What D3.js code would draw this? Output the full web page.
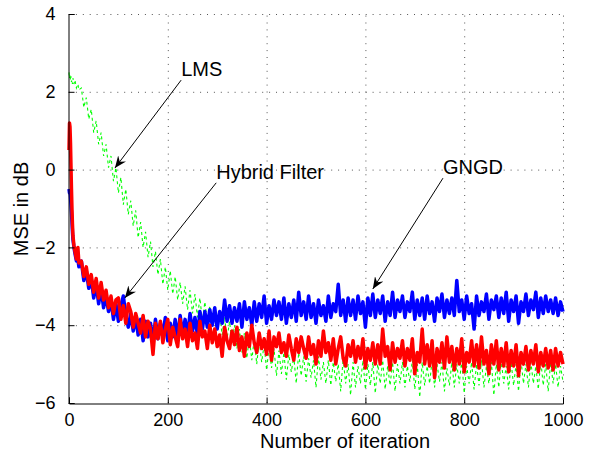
<!DOCTYPE html>
<html>
<head>
<meta charset="utf-8">
<script src="https://cdn.jsdelivr.net/npm/d3@7"></script>
<style>
  body { margin: 0; background: #fff; }
  text { font-family: "Liberation Sans", Arial, Helvetica, sans-serif; }
</style>
</head>
<body>
<svg width="589" height="453"></svg>
<script>
// sampling grid (iteration numbers), finer at the start
var iters = [0, 1, 2, 3, 4, 5, 6, 7, 8, 10, 12, 15, 18, 20].concat(d3.range(25, 1001, 5));

// MSE in dB
var lms = [
  2.5, 2.35, 2.45, 2.3, 2.4, 2.25, 2.3, 2.2, 2.35, 2.2, 2.3, 2.1, 2.2, 2.05,
  2.1, 1.6, 1.85, 1.3, 1.55, 0.95, 1.25, 0.65, 0.95, 0.35,
  0.65, 0.05, 0.35, -0.3, 0.05, -0.6, -0.2, -0.9, -0.5, -1.15,
  -0.8, -1.45, -1.05, -1.75, -1.35, -2.0, -1.6, -2.25, -1.85, -2.5,
  -2.1, -2.7, -2.3, -2.95, -2.5, -3.1, -2.6, -3.2, -2.75, -3.35,
  -2.9, -3.45, -3.0, -3.6, -3.1, -3.7, -3.2, -3.8, -3.3, -3.9,
  -3.4, -3.9, -3.5, -4.0, -3.6, -4.1, -3.7, -4.25, -3.8, -4.35,
  -3.9, -4.45, -4.0, -4.6, -4.1, -4.7, -4.2, -4.85, -4.3, -4.9,
  -4.35, -5.0, -4.4, -4.95, -4.5, -5.15, -4.55, -5.1, -4.6, -5.3,
  -4.65, -5.25, -4.7, -5.4, -4.75, -5.2, -4.8, -5.5, -4.7, -5.3,
  -4.8, -5.45, -4.85, -5.35, -4.9, -5.6, -4.8, -5.4, -4.95, -5.5,
  -4.9, -5.55, -4.95, -5.45, -5.0, -5.7, -4.85, -5.5, -5.0, -5.8,
  -4.95, -5.6, -5.05, -5.5, -4.9, -5.65, -5.0, -5.55, -4.95, -5.75,
  -5.0, -5.5, -4.9, -5.65, -5.05, -5.55, -4.95, -5.7, -5.0, -5.5,
  -4.95, -5.6, -5.05, -5.45, -4.9, -5.65, -5.0, -5.85, -4.95, -5.55,
  -5.05, -5.5, -4.9, -5.6, -5.0, -5.45, -4.95, -5.7, -5.1, -5.55,
  -4.95, -5.6, -5.0, -5.5, -4.9, -5.75, -5.05, -5.5, -4.95, -5.65,
  -5.0, -5.55, -4.9, -5.6, -5.05, -5.5, -4.95, -5.8, -5.0, -5.6,
  -4.9, -5.5, -5.05, -5.65, -4.95, -5.55, -5.0, -5.7, -4.9, -5.5,
  -5.0, -5.6, -4.95, -5.5, -5.05, -5.65, -4.9, -5.55, -5.0, -5.7,
  -4.95, -5.5, -5.0, -5.6, -5.05, -5.45
];

var gngd = [
  -0.5, -0.6, -0.55, -0.7, -0.9, -1.1, -1.35, -1.6, -1.8, -2.0, -2.15, -2.35, -2.3, -2.5,
  -2.35, -2.85, -2.6, -3.05, -2.8, -3.3, -2.95, -3.45, -3.05, -3.55,
  -3.25, -3.65, -3.35, -3.85, -3.45, -3.9, -3.5, -3.25, -3.75, -4.05,
  -3.7, -4.15, -3.8, -4.25, -3.85, -4.4, -3.9, -4.3, -3.95, -4.45,
  -3.85, -4.35, -3.95, -4.25, -3.8, -4.4, -3.95, -4.3, -3.85, -4.35,
  -3.75, -4.25, -3.85, -4.3, -3.7, -4.15, -3.8, -4.25, -3.65, -4.1,
  -3.65, -4.05, -3.6, -4.0, -3.55, -4.1, -3.65, -3.95, -3.35, -3.9,
  -3.5, -3.95, -3.55, -3.9, -3.45, -4.05, -3.4, -3.85, -3.55, -4.0,
  -3.4, -3.9, -3.45, -3.8, -3.25, -3.95, -3.5, -3.85, -3.35, -3.75,
  -3.4, -3.85, -3.3, -3.95, -3.45, -3.8, -3.35, -3.9, -3.15, -3.75,
  -3.4, -3.85, -3.25, -3.8, -3.45, -3.95, -3.35, -3.75, -3.5, -3.9,
  -3.25, -3.8, -3.45, -3.65, -2.95, -3.75, -3.35, -3.9, -3.3, -3.75,
  -3.35, -3.85, -3.25, -3.7, -3.4, -4.05, -3.3, -3.75, -3.2, -3.8,
  -3.35, -3.7, -3.25, -3.9, -3.4, -3.75, -3.15, -3.8, -3.35, -3.65,
  -3.25, -3.8, -3.4, -3.65, -3.15, -3.85, -3.35, -3.75, -3.3, -3.85,
  -3.25, -3.7, -3.4, -3.9, -3.3, -3.65, -3.2, -3.8, -3.35, -3.7,
  -3.3, -3.75, -2.85, -3.65, -3.35, -3.85, -3.25, -3.7, -3.45, -4.1,
  -3.25, -3.75, -3.4, -3.65, -3.2, -3.85, -3.35, -3.6, -3.25, -3.8,
  -3.3, -3.7, -3.15, -3.9, -3.35, -3.65, -3.25, -3.95, -3.4, -3.65,
  -3.2, -3.75, -3.35, -3.6, -3.15, -3.8, -3.3, -3.7, -3.25, -3.65,
  -3.35, -3.7, -3.3, -3.75, -3.4, -3.65
];

var hybrid = [
  0.5, 1.2, 1.1, 0.7, 0.1, -0.5, -1.0, -1.4, -1.7, -1.95, -2.1, -2.3, -2.0, -2.4,
  -2.35, -2.75, -2.5, -2.95, -2.7, -3.15, -2.8, -3.3, -2.9, -3.35,
  -3.1, -3.55, -3.25, -3.7, -3.35, -3.3, -3.85, -3.5, -3.95, -3.45,
  -3.65, -4.05, -3.7, -3.95, -4.2, -3.75, -4.3, -3.9, -4.1, -4.75,
  -3.95, -4.35, -3.9, -4.45, -4.1, -3.85, -4.5, -4.05, -4.3, -4.55,
  -3.85, -4.35, -4.1, -4.55, -3.95, -4.4, -4.2, -4.6, -3.9, -4.3,
  -4.15, -4.6, -4.0, -4.45, -4.1, -4.55, -4.25, -4.8, -4.05, -4.4,
  -4.6, -4.15, -4.5, -4.05, -4.65, -4.3, -4.8, -4.2, -4.55, -4.0,
  -4.45, -4.7, -4.2, -4.6, -4.35, -4.75, -4.15, -4.9, -4.3, -4.55,
  -4.2, -4.7, -4.45, -4.8, -4.25, -4.6, -4.9, -4.35, -4.7, -4.3,
  -4.6, -4.85, -4.3, -4.75, -4.5, -5.0, -4.4, -4.8, -4.15, -4.7,
  -4.45, -4.9, -4.35, -5.0, -4.6, -4.3, -4.85, -5.05, -4.5, -4.8,
  -4.4, -4.95, -4.55, -4.85, -4.35, -5.1, -4.6, -4.9, -4.45, -5.0,
  -4.5, -5.0, -4.1, -4.8, -4.55, -5.15, -4.45, -4.95, -4.6, -4.85,
  -4.4, -5.05, -4.6, -4.9, -4.35, -5.25, -4.7, -4.95, -4.1, -5.0,
  -4.5, -5.05, -4.4, -5.35, -4.6, -4.95, -4.45, -5.1, -4.3, -4.95,
  -4.55, -5.15, -4.6, -5.0, -4.35, -5.2, -4.7, -4.95, -4.4, -5.05,
  -4.5, -5.1, -4.3, -5.0, -4.65, -5.25, -4.5, -5.0, -4.4, -5.15,
  -4.6, -5.05, -4.45, -5.2, -4.65, -5.05, -4.5, -5.3, -4.7, -5.0,
  -4.55, -5.15, -4.65, -5.0, -4.5, -5.2, -4.7, -5.05, -4.6, -5.1,
  -4.65, -5.15, -4.6, -5.05, -4.7, -5.0
];

var xTicks = [0, 200, 400, 600, 800, 1000];
var yTicks = [-6, -4, -2, 0, 2, 4];

// text arrows: label at the tail, head points at the curve (data units)
var notes = [
  { text: "LMS",           tail: [227, 2.3],   head: [93, 0.04] },
  { text: "Hybrid Filter", tail: [298, -0.34], head: [113, -3.3] },
  { text: "GNGD",          tail: [757, -0.22], head: [615, -3.07] }
];

var svg = d3.select("svg");
var x = d3.scaleLinear().domain([0, 1000]).range([69, 563]);
var y = d3.scaleLinear().domain([-6, 4]).range([403, 14]);

// dotted grid
var grid = svg.append("g")
  .attr("stroke", "#555")
  .attr("stroke-width", 1)
  .attr("stroke-dasharray", "1,5.9");
grid.selectAll(".gx").data(xTicks.filter(d => d > 0)).enter().append("line")
  .attr("x1", d => x(d) + 0.5).attr("x2", d => x(d) + 0.5)
  .attr("y1", y(-6)).attr("y2", y(4));
grid.selectAll(".gy").data(yTicks.filter(d => d > -6)).enter().append("line")
  .attr("y1", d => y(d) + 0.5).attr("y2", d => y(d) + 0.5)
  .attr("x1", x(0)).attr("x2", x(1000));

// series
function line(vals) {
  return d3.line()
    .x((d, i) => x(iters[i]))
    .y(d => y(d))(vals);
}

svg.append("path")
  .attr("d", line(lms))
  .attr("fill", "none")
  .attr("stroke", "#00ff00")
  .attr("stroke-width", 1.1)
  .attr("stroke-dasharray", "3,3");

svg.append("path")
  .attr("d", line(gngd))
  .attr("fill", "none")
  .attr("stroke", "#0000ff")
  .attr("stroke-width", 3.5)
  .attr("stroke-linejoin", "round");

svg.append("path")
  .attr("d", line(hybrid))
  .attr("fill", "none")
  .attr("stroke", "#ff0000")
  .attr("stroke-width", 3.5)
  .attr("stroke-linejoin", "round");

// axes (matlab style: inward ticks, minor ticks)
var xAxis = svg.append("g").attr("transform", "translate(0," + (y(-6) + 0.5) + ")");
xAxis.call(d3.axisBottom(x).tickValues(d3.range(0, 1001, 20)).tickSize(-3).tickFormat(""));
xAxis.call(d3.axisBottom(x).tickValues(xTicks).tickSize(-6).tickPadding(10).tickFormat(d3.format("d")));
var yAxis = svg.append("g").attr("transform", "translate(" + (x(0) - 0.5) + ",0)");
yAxis.call(d3.axisLeft(y).tickValues(d3.range(-6, 4.01, 0.2)).tickSize(-3).tickFormat(""));
yAxis.call(d3.axisLeft(y).tickValues(yTicks).tickSize(-6).tickPadding(13).tickFormat(d => d3.format("d")(d).replace("-", "\u2212")));
svg.selectAll(".domain").attr("stroke", "#000");
svg.selectAll(".tick line").attr("stroke", "#000");
svg.selectAll(".tick text")
  .attr("font-size", 18)
  .attr("font-family", "'Liberation Sans', Arial, sans-serif")
  .attr("fill", "#000");

svg.append("text")
  .attr("x", 345).attr("y", 448)
  .attr("text-anchor", "middle")
  .attr("font-size", 20)
  .text("Number of iteration");

svg.append("text")
  .attr("transform", "translate(28,209) rotate(-90)")
  .attr("text-anchor", "middle")
  .attr("font-size", 20)
  .text("MSE in dB");

// arrowhead
svg.append("defs").append("marker")
  .attr("id", "head")
  .attr("viewBox", "0 0 12 10")
  .attr("refX", 12).attr("refY", 5)
  .attr("markerWidth", 12).attr("markerHeight", 10)
  .attr("markerUnits", "userSpaceOnUse")
  .attr("orient", "auto")
  .append("path")
  .attr("d", "M0,0 L12,5 L0,10 L4,5 Z")
  .attr("fill", "#000");

notes.forEach(function(n) {
  svg.append("line")
    .attr("x1", x(n.tail[0])).attr("y1", y(n.tail[1]))
    .attr("x2", x(n.head[0])).attr("y2", y(n.head[1]))
    .attr("stroke", "#000")
    .attr("stroke-width", 1)
    .attr("marker-end", "url(#head)");
  svg.append("text")
    .attr("x", x(n.tail[0])).attr("y", y(n.tail[1]) - 4)
    .attr("font-size", 20)
    .text(n.text);
});
</script>
</body>
</html>
